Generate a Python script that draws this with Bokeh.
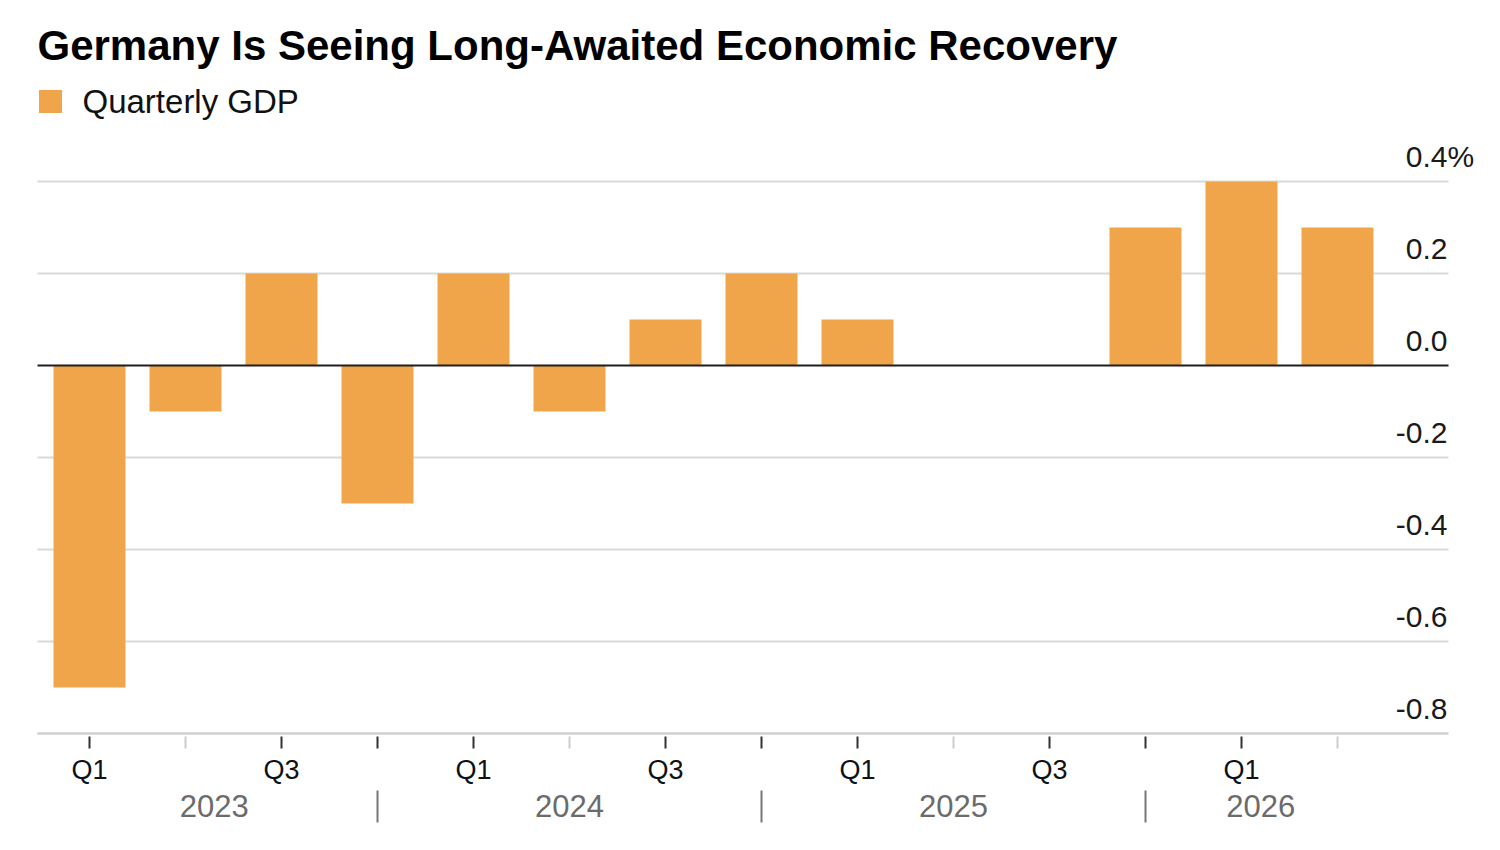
# Germany quarterly GDP bar chart
import numpy as np
from bokeh.plotting import figure
from bokeh.models import Range1d
from bokeh.core.properties import value
from bokeh.embed import file_html
from bokeh.resources import INLINE

# data
quarters = ["Q1", "Q2", "Q3", "Q4"] * 3 + ["Q1", "Q2"]
gdp = [-0.7, -0.1, 0.2, -0.3, 0.2, -0.1, 0.1, 0.2, 0.1, 0.0, 0.0, 0.3, 0.4, 0.3]
years = ["2023", "2024", "2025", "2026"]
year_pos = [1.3, 5.0, 9.0, 12.2]
year_breaks = [3, 7, 11]
y_ticks = [0.4, 0.2, 0.0, -0.2, -0.4, -0.6, -0.8]
y_tick_labels = ["0.4", "0.2", "0.0", "-0.2", "-0.4", "-0.6", "-0.8"]

bar_color = "#f0a54a"
font = "Liberation Sans"

# pixel helpers (page pixels -> data), bars spaced 96px, 460px per 1 pct point
def fx(px):
    return (px - 89) / 96

def fy(py):
    return (365 - py) / 460

W, H = 1484, 834
p = figure(width=W, height=H, output_backend="svg", toolbar_location=None,
           x_range=Range1d(fx(0), fx(W)), y_range=Range1d(fy(H), fy(0)),
           x_axis_type=None, y_axis_type=None, min_border=0)
p.grid.visible = False
p.outline_line_color = None

idx = np.arange(len(gdp))

# gridlines
grid_vals = [v for v in y_ticks if v not in (0.0, -0.8)]
p.segment(x0=[fx(37)] * len(grid_vals), x1=[fx(1448)] * len(grid_vals),
          y0=grid_vals, y1=grid_vals, line_color="#d9d9d9", line_width=2)
# x axis line at bottom
p.segment(x0=[fx(37)], x1=[fx(1448)], y0=[-0.8], y1=[-0.8], line_color="#cfcfcf", line_width=2.5)

# bars
p.vbar(x=idx, top=gdp, bottom=0, width=0.75, fill_color=bar_color, line_color=None)

# zero line
p.segment(x0=[fx(37)], x1=[fx(1448)], y0=[0], y1=[0], line_color="#1f1f1f", line_width=2)

# y labels (right side, above the lines)
lab_off = 25 / 460
p.text(x=[fx(1447)] * len(y_ticks), y=[v + lab_off for v in y_ticks], text=y_tick_labels,
       text_align="right", text_baseline="middle", text_font=value(font),
       text_font_size="30px", text_color="#1a1a1a")
p.text(x=[fx(1447)], y=[0.4 + lab_off], text=["%"], text_align="left", text_baseline="middle",
       text_font=value(font), text_font_size="30px", text_color="#1a1a1a")

# quarter ticks
tick_colors = ["#cccccc" if q == "Q2" else "#333333" for q in quarters]
p.segment(x0=idx, x1=idx, y0=[-0.8 - 3 / 460] * len(idx), y1=[-0.8 - 15 / 460] * len(idx),
          line_color=tick_colors, line_width=2)

# quarter labels (Q1 and Q3 only)
lab_x = [i for i, q in zip(idx, quarters) if q in ("Q1", "Q3")]
lab_t = [q for q in quarters if q in ("Q1", "Q3")]
p.text(x=lab_x, y=[fy(769)] * len(lab_x), text=lab_t, text_align="center", text_baseline="middle",
       text_font=value(font), text_font_size="27px", text_color="#111111")

# year labels and separators
p.text(x=year_pos, y=[fy(805)] * len(years), text=years, text_align="center", text_baseline="middle",
       text_font=value(font), text_font_size="31px", text_color="#6b6b6b")
p.segment(x0=year_breaks, x1=year_breaks, y0=[fy(790)] * 3, y1=[fy(822)] * 3,
          line_color="#777777", line_width=2)

# title
p.text(x=[fx(37)], y=[fy(45)], text=["Germany Is Seeing Long-Awaited Economic Recovery"],
       text_align="left", text_baseline="middle", text_font=value(font),
       text_font_style="bold", text_font_size="42px", text_color="#000000")

# legend
p.rect(x=[fx(50)], y=[fy(101)], width=23, height=23, width_units="screen", height_units="screen",
       fill_color=bar_color, line_color=None)
p.text(x=[fx(82)], y=[fy(101)], text=["Quarterly GDP"], text_align="left", text_baseline="middle",
       text_font=value(font), text_font_size="33px", text_color="#111111")

open("out.html", "w").write(file_html(p, INLINE))
